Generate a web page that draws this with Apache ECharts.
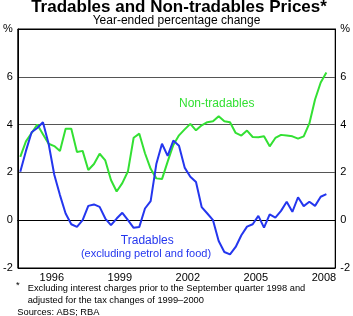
<!DOCTYPE html>
<html>
<head>
<meta charset="utf-8">
<script src="https://cdn.jsdelivr.net/npm/echarts@6/dist/echarts.min.js"></script>
<style>
html, body { margin: 0; padding: 0; background: #fff; }
#main { width: 353px; height: 316px; }
</style>
</head>
<body>
<div id="main"></div>
<script>
var chartDom = document.getElementById('main');
var myChart = echarts.init(chartDom, null, { renderer: 'canvas' });
var option;

// year bands on the x axis (ticks between years, labels in the middle)
var years = ['1995', '1996', '1997', '1998', '1999', '2000', '2001',
             '2002', '2003', '2004', '2005', '2006', '2007', '2008'];
var shownYears = ['1996', '1999', '2002', '2005', '2008'];

// quarterly data, March 1995 quarter to September 2008 quarter
var firstQuarter = 1995.11;
var nonTradables = [2.65, 3.3, 3.65, 4.0, 3.6, 3.2, 3.1, 2.9, 3.83, 3.83,
                    2.85, 2.9, 2.1, 2.35, 2.78, 2.5, 1.68, 1.2, 1.55, 2.05,
                    3.45, 3.62, 2.8, 2.15, 1.75, 1.72, 2.45, 3.15, 3.55, 3.8,
                    4.03, 3.76, 3.97, 4.1, 4.14, 4.35, 4.14, 4.1, 3.65, 3.54,
                    3.75, 3.48, 3.47, 3.51, 3.09, 3.44, 3.57, 3.54, 3.51, 3.41,
                    3.51, 4.05, 5.05, 5.76, 6.18];
var tradables = [2.03, 2.9, 3.68, 3.86, 4.1, 3.2, 1.9, 1.05, 0.28, -0.17,
                 -0.28, 0.0, 0.6, 0.66, 0.56, 0.07, -0.21, 0.07, 0.31, 0.0,
                 -0.32, -0.28, 0.49, 0.8, 2.35, 3.2, 2.69, 3.33, 3.12, 2.2,
                 1.82, 1.6, 0.55, 0.28, 0.0, -0.87, -1.33, -1.43, -1.12, -0.63,
                 -0.27, -0.17, 0.18, -0.31, 0.24, 0.11, 0.39, 0.77, 0.35, 0.96,
                 0.59, 0.77, 0.6, 0.98, 1.09];

function toPoints(values) {
  return values.map(function (v, i) { return [firstQuarter + i * 0.25, v]; });
}

var font = 'Liberation Sans, Arial, sans-serif';
var green = '#33e033';
var blue = '#2436ee';

function pctLabel(v) { return v === 8 ? '%' : String(v); }

option = {
  backgroundColor: '#fff',
  animation: false,
  textStyle: { fontFamily: font },
  grid: {
    left: 16, right: 14.5, top: 29, bottom: 48,
    show: true, borderColor: '#000', borderWidth: 1
  },
  xAxis: [
    {
      type: 'category',
      data: years,
      boundaryGap: true,
      axisLine: { lineStyle: { color: '#000', width: 1 } },
      axisTick: { interval: 0, inside: true, length: 6, lineStyle: { color: '#000' } },
      axisLabel: {
        interval: function (i, v) { return shownYears.indexOf(v) >= 0; },
        color: '#000', fontSize: 11, margin: 4, fontFamily: font
      },
      splitLine: { show: false }
    },
    {
      type: 'value',
      min: 1995, max: 2009,
      show: false
    }
  ],
  yAxis: [
    {
      type: 'value', position: 'left',
      min: -2, max: 8, interval: 2,
      axisLine: { show: true, lineStyle: { color: '#000' } },
      axisTick: { show: false },
      axisLabel: { formatter: pctLabel, color: '#000', fontSize: 11, margin: 5, fontFamily: font },
      splitLine: { show: true, lineStyle: { color: ['#000', '#000', '#555', '#555', '#555', '#000'], width: 1 } }
    },
    {
      type: 'value', position: 'right',
      min: -2, max: 8, interval: 2,
      axisLine: { show: true, lineStyle: { color: '#000' } },
      axisTick: { show: false },
      axisLabel: { formatter: pctLabel, color: '#000', fontSize: 11, margin: 5, fontFamily: font },
      splitLine: { show: false }
    }
  ],
  series: [
    {
      name: 'Non-tradables',
      type: 'line',
      xAxisIndex: 1,
      data: toPoints(nonTradables),
      showSymbol: false,
      lineStyle: { color: green, width: 2 },
      itemStyle: { color: green }
    },
    {
      name: 'Tradables',
      type: 'line',
      xAxisIndex: 1,
      data: toPoints(tradables),
      showSymbol: false,
      lineStyle: { color: blue, width: 2 },
      itemStyle: { color: blue }
    }
  ],
  graphic: [
    { type: 'text', x: 179, y: 7, style: { text: 'Tradables and Non-tradables Prices*', font: 'bold 17px ' + font, fill: '#000', align: 'center', verticalAlign: 'middle' } },
    { type: 'text', x: 176.5, y: 21, style: { text: 'Year-ended percentage change', font: '12px ' + font, fill: '#000', align: 'center', verticalAlign: 'middle' } },
    { type: 'text', x: 216.7, y: 104, style: { text: 'Non-tradables', font: '12px ' + font, fill: green, align: 'center', verticalAlign: 'middle' } },
    { type: 'text', x: 147.3, y: 240.7, style: { text: 'Tradables', font: '12px ' + font, fill: blue, align: 'center', verticalAlign: 'middle' } },
    { type: 'text', x: 146, y: 254.3, style: { text: '(excluding petrol and food)', font: '11px ' + font, fill: blue, align: 'center', verticalAlign: 'middle' } },
    { type: 'text', x: 16, y: 285, style: { text: '*', font: '9.3px ' + font, fill: '#000', align: 'left', verticalAlign: 'middle' } },
    { type: 'text', x: 27.7, y: 288.3, style: { text: 'Excluding interest charges prior to the September quarter 1998 and', font: '9.3px ' + font, fill: '#000', align: 'left', verticalAlign: 'middle' } },
    { type: 'text', x: 27.7, y: 300.3, style: { text: 'adjusted for the tax changes of 1999\u20132000', font: '9.3px ' + font, fill: '#000', align: 'left', verticalAlign: 'middle' } },
    { type: 'text', x: 17.3, y: 312.3, style: { text: 'Sources: ABS; RBA', font: '9.3px ' + font, fill: '#000', align: 'left', verticalAlign: 'middle' } }
  ]
};

myChart.setOption(option);
</script>
</body>
</html>
